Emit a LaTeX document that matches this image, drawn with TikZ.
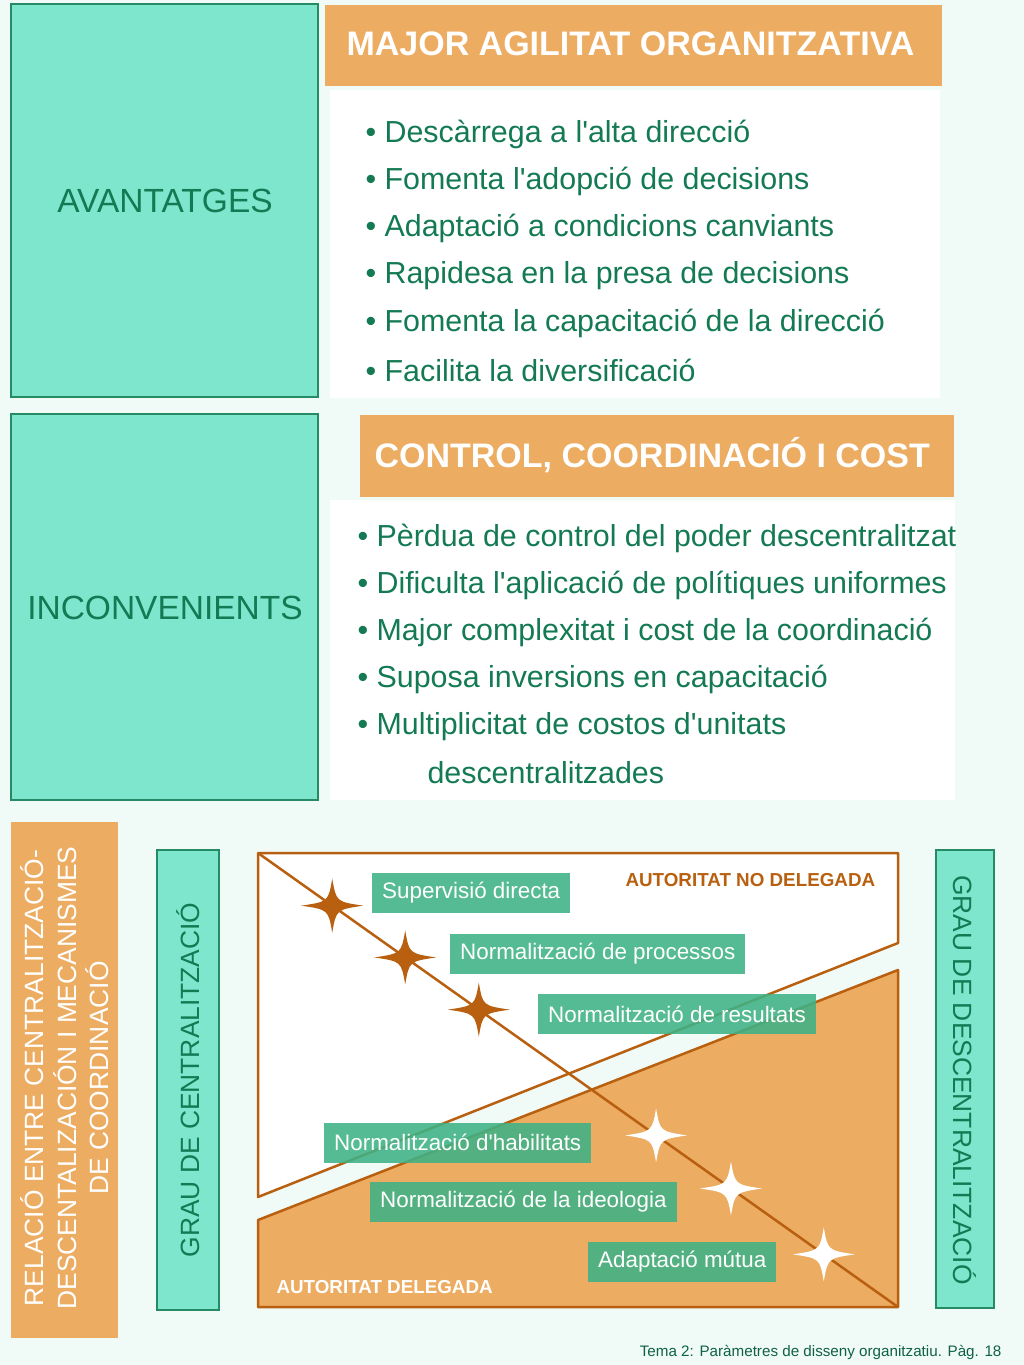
\documentclass[tikz,border=0pt]{standalone}
\usepackage{fontspec}
\setmainfont{Liberation Sans}[Ligatures=TeXOff]
\usetikzlibrary{calc}
\definecolor{bgmint}{RGB}{240,250,247}
\definecolor{mint}{RGB}{126,230,204}
\definecolor{mintline}{RGB}{38,138,100}
\definecolor{txtgreen}{RGB}{20,122,84}
\definecolor{orangebox}{RGB}{236,172,98}
\definecolor{brown}{RGB}{184,96,16}
\definecolor{labelgreen}{RGB}{62,178,134}
\tikzset{
  sparkle/.pic={\fill (0,-27) .. controls (4,-4) .. (31,0) .. controls (4,4) .. (0,27)
     .. controls (-4,4) .. (-31,0) .. controls (-4,-4) .. (0,-27) -- cycle;}
}
\begin{document}
\begin{tikzpicture}[x=1pt,y=-1pt,
  mintbox/.style={fill=mint,draw=mintline,line width=1.2pt},
  headbox/.style={fill=orangebox},
  headtext/.style={anchor=west,text=white,font=\fontsize{34}{38}\selectfont\bfseries},
  sidetext/.style={text=txtgreen,font=\fontsize{33.5}{38}\selectfont},
  bullet/.style={anchor=west,text=txtgreen,font=\fontsize{30.4}{36}\selectfont},
  mechbox/.style={anchor=west,fill=labelgreen,fill opacity=.88,text opacity=1,text=white,
    minimum height=40pt,inner xsep=10pt,font=\fontsize{22.4}{26}\selectfont},
  vtext/.style={font=\fontsize{26.4}{32.5}\selectfont,align=center},
  authtext/.style={anchor=west,font=\fontsize{18.8}{22}\selectfont\bfseries}]
		\useasboundingbox (0,0) rectangle (1024,1365);
		\fill[bgmint] (0,0) rectangle (1024,1365);
		
		% Avantatges
		\draw[mintbox] (11,4) rectangle (318,397);
		\node[sidetext] (avantatges) at (165,201) {AVANTATGES};
		\fill[headbox] (325,5) rectangle (942,86);
		\node[headtext] (agilitat) at (343,44) {MAJOR AGILITAT ORGANITZATIVA};
		\fill[white] (330,90) rectangle (940,398);
		\foreach \txt [count=\i from 0] in {Descàrrega a l'alta direcció, Fomenta l'adopció de decisions,
		  Adaptació a condicions canviants, Rapidesa en la presa de decisions,
		  Fomenta la capacitació de la direcció, Facilita la diversificació}
		  \node[bullet] (av\i) at (362,{134+47.3*\i}) {• \txt};
		
		% Inconvenients
		\draw[mintbox] (11,414) rectangle (318,800);
		\node[sidetext] (inconvenients) at (165,608) {INCONVENIENTS};
		\fill[headbox] (360,415) rectangle (954,497);
		\node[headtext] (control) at (371,455) {CONTROL, COORDINACIÓ I COST};
		\fill[white] (330,500) rectangle (955,800);
		\foreach \txt [count=\i from 0] in {Pèrdua de control del poder descentralitzat,
		  Dificulta l'aplicació de polítiques uniformes, Major complexitat i cost de la coordinació,
		  Suposa inversions en capacitació, Multiplicitat de costos d'unitats}
		  \node[bullet] (in\i) at (354,{538+47.2*\i}) {• \txt};
		\node[bullet] (in5) at (424,773) {descentralitzades};
		
		% Kaderns laterals
		\fill[orangebox] (11,822) rectangle (118,1338);
		\node[vtext,text=white,rotate=90] (relacio) at (65,1078)
		  {RELACIÓ ENTRE CENTRALITZACIÓ-\\DESCENTALIZACIÓN I MECANISMES\\DE COORDINACIÓ};
		\draw[mintbox] (157,850) rectangle (219,1310);
		\node[vtext,text=txtgreen,rotate=90] (grau) at (188,1080) {GRAU DE CENTRALITZACIÓ};
		\draw[mintbox] (936,850) rectangle (994,1308);
		\node[vtext,text=txtgreen,rotate=-90] (graudes) at (965,1080) {GRAU DE DESCENTRALITZACIÓ};
		
		% Diagrama
		\coordinate (tl) at (258,853);
		\coordinate (br) at (898,1307);
		\filldraw[fill=orangebox,draw=brown,line width=2.5pt,line join=round]
		  (258,1220) -- (898,970) -- (898,1307) -- (258,1307) -- cycle;
		\filldraw[fill=white,draw=brown,line width=2.5pt,line join=round]
		  (258,853) -- (898,853) -- (898,943) -- (258,1197) -- cycle;
		\draw[brown,line width=2.5pt] (tl) -- (br);
		\node[authtext,text=brown] (nodeleg) at (622,880) {AUTORITAT NO DELEGADA};
		\node[authtext,text=white] (deleg) at (273,1287) {AUTORITAT DELEGADA};
		
		% Estrelles
		\foreach \p in {.116,.23,.345}
		  \pic[brown] at ($(tl)!\p!(br)$) {sparkle};
		\foreach \p in {.622,.739,.884}
		  \pic[white] at ($(tl)!\p!(br)$) {sparkle};
		
		% Mecanismes
		\node[mechbox] (superv) at (372,893) {Supervisió directa};
		\node[mechbox] (proces) at (450,954) {Normalització de processos};
		\node[mechbox] (result) at (538,1014) {Normalització de resultats};
		\node[mechbox] (habil) at (324,1142.5) {Normalització d'habilitats};
		\node[mechbox] (ideol) at (370,1201.5) {Normalització de la ideologia};
		\node[mechbox] (mutua) at (588,1261.5) {Adaptació mútua};
		
		\node[anchor=east,text=txtgreen!80!black,font=\fontsize{15.2}{18}\selectfont] (peu) at (1005,1352)
		  {Tema 2: Paràmetres de disseny organitzatiu. Pàg. 18};
	\end{tikzpicture}
\end{document}
